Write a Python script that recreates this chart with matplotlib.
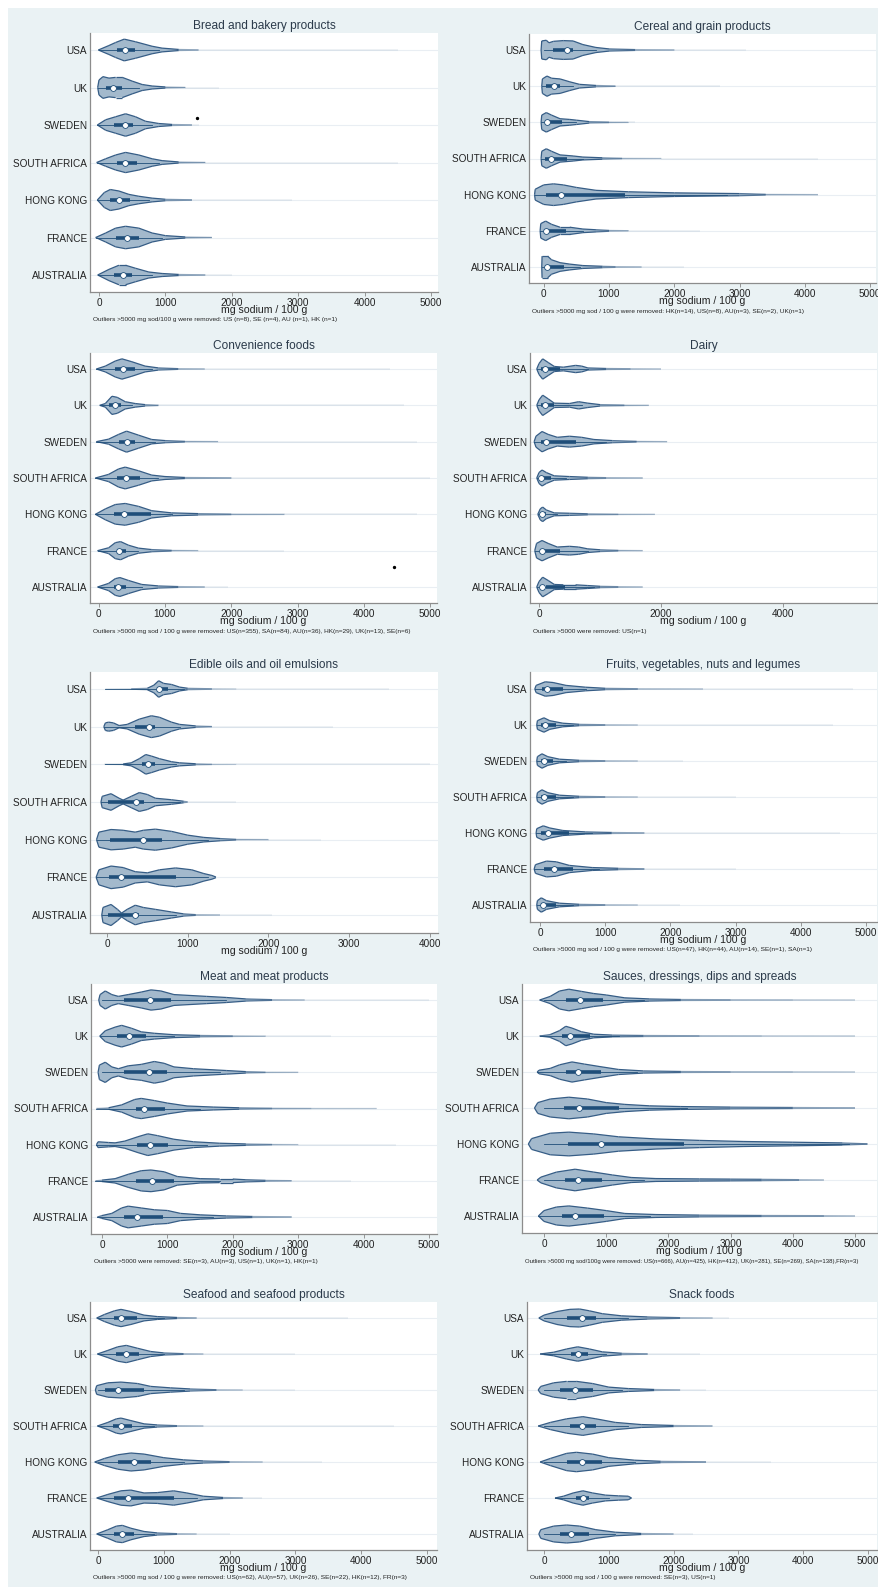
import numpy as np
import matplotlib
matplotlib.use("Agg")
import matplotlib.pyplot as plt
from matplotlib.patches import Rectangle
from matplotlib.collections import LineCollection
from matplotlib.colors import to_rgba

plt.rcParams['font.family'] = ['Liberation Sans', 'DejaVu Sans']

W, H = 879, 1587
COUNTRIES = ["USA", "UK", "SWEDEN", "SOUTH AFRICA", "HONG KONG", "FRANCE", "AUSTRALIA"]

FILL = "#a3b9cc"
EDGE = "#365d86"
DARK = "#1f4e79"

# violin outlines per country: (mg sodium, half width in row units)
bread_shape = [
    [(-10, 0), (150, 0.12), (250, 0.2), (380, 0.29), (550, 0.22), (800, 0.1), (950, 0.05), (1200, 0.015), (1500, 0.004)],
    [(-20, 0), (0, 0.2), (60, 0.29), (150, 0.25), (250, 0.27), (350, 0.27), (500, 0.17), (650, 0.08), (800, 0.04), (1000, 0.015), (1300, 0.004)],
    [(-25, 0), (100, 0.14), (250, 0.22), (400, 0.3), (550, 0.22), (700, 0.1), (900, 0.04), (1100, 0.015), (1400, 0.004)],
    [(-35, 0), (100, 0.1), (250, 0.2), (400, 0.27), (600, 0.2), (800, 0.1), (950, 0.05), (1200, 0.015), (1600, 0.004)],
    [(-25, 0), (80, 0.2), (170, 0.28), (300, 0.24), (450, 0.15), (600, 0.1), (800, 0.05), (1000, 0.02), (1400, 0.005)],
    [(-50, 0), (100, 0.12), (250, 0.25), (400, 0.3), (600, 0.25), (800, 0.12), (1000, 0.05), (1300, 0.015), (1700, 0.004)],
    [(-20, 0), (150, 0.15), (300, 0.26), (400, 0.26), (550, 0.18), (750, 0.08), (950, 0.04), (1200, 0.015), (1600, 0.004)],
]
bread_box = [(0, 276, 397, 542, 900), (-20, 105, 206, 346, 600), (-25, 231, 392, 517, 800),
             (-35, 276, 392, 567, 900), (-25, 166, 301, 467, 750), (-50, 256, 427, 607, 950),
             (-20, 226, 356, 492, 800)]
bread_tail = [4500, 1800, 1500, 4500, 2900, 1700, 2000]

cereal_shape = [
    [(-40, 0), (-30, 0.25), (40, 0.27), (80, 0.2), (150, 0.24), (300, 0.26), (450, 0.25), (600, 0.15), (800, 0.07), (1000, 0.03), (1400, 0.012), (2000, 0.004)],
    [(-30, 0), (-20, 0.2), (50, 0.28), (120, 0.22), (250, 0.2), (400, 0.12), (550, 0.05), (800, 0.02), (1100, 0.005)],
    [(-40, 0), (-30, 0.2), (40, 0.27), (120, 0.2), (250, 0.1), (400, 0.08), (500, 0.06), (700, 0.02), (1000, 0.01), (1300, 0.004)],
    [(-40, 0), (-30, 0.2), (40, 0.27), (120, 0.2), (250, 0.1), (450, 0.07), (600, 0.04), (900, 0.02), (1200, 0.008), (1800, 0.003)],
    [(-140, 0), (-130, 0.15), (0, 0.27), (150, 0.3), (300, 0.27), (500, 0.2), (800, 0.12), (1300, 0.08), (2000, 0.05), (3000, 0.03), (3400, 0.01), (4200, 0.003)],
    [(-55, 0), (-45, 0.2), (30, 0.27), (120, 0.18), (250, 0.1), (400, 0.1), (600, 0.05), (800, 0.03), (1000, 0.012), (1300, 0.004)],
    [(-30, 0), (-25, 0.3), (60, 0.3), (120, 0.2), (250, 0.12), (400, 0.08), (600, 0.04), (900, 0.02), (1100, 0.01), (1500, 0.004)],
]
cereal_box = [(0, 150, 357, 455, 800), (-30, 36, 158, 250, 450), (-40, 36, 46, 276, 500),
              (-40, 15, 112, 352, 600), (-140, 36, 260, 1246, 2800), (-55, 56, 36, 342, 600),
              (-30, 56, 46, 312, 550)]
cereal_tail = [3100, 2700, 1400, 4200, 4200, 2400, 2150]

conv_shape = [
    [(-35, 0), (100, 0.08), (250, 0.22), (350, 0.28), (500, 0.2), (700, 0.08), (900, 0.03), (1200, 0.01), (1600, 0.004)],
    [(15, 0), (100, 0.05), (200, 0.25), (280, 0.22), (400, 0.1), (550, 0.05), (700, 0.02), (900, 0.006)],
    [(-35, 0), (150, 0.07), (300, 0.2), (420, 0.29), (600, 0.18), (800, 0.06), (1000, 0.03), (1300, 0.01), (1800, 0.004)],
    [(-50, 0), (150, 0.1), (300, 0.25), (400, 0.3), (600, 0.2), (800, 0.08), (1000, 0.04), (1300, 0.015), (2000, 0.005)],
    [(-50, 0), (100, 0.15), (250, 0.27), (400, 0.3), (600, 0.22), (800, 0.1), (1100, 0.04), (1500, 0.02), (2000, 0.01), (2800, 0.004)],
    [(-17, 0), (150, 0.08), (250, 0.22), (330, 0.25), (450, 0.15), (600, 0.07), (800, 0.03), (1100, 0.01), (1500, 0.003)],
    [(-17, 0), (150, 0.1), (250, 0.23), (320, 0.26), (450, 0.18), (650, 0.07), (900, 0.03), (1200, 0.012), (1600, 0.004)],
]
conv_box = [(-35, 245, 364, 540, 800), (15, 160, 245, 330, 500), (-35, 313, 423, 540, 850),
            (-50, 270, 406, 626, 900), (-50, 228, 380, 795, 1100), (-17, 270, 313, 415, 600),
            (-17, 237, 296, 415, 650)]
conv_tail = [4400, 4600, 4800, 5000, 4800, 2800, 1950]

dairy_shape = [
    [(-37, 0), (0, 0.15), (60, 0.28), (150, 0.18), (250, 0.07), (400, 0.05), (600, 0.1), (700, 0.08), (800, 0.03), (1100, 0.015), (1500, 0.008), (2000, 0.003)],
    [(-37, 0), (0, 0.15), (60, 0.28), (150, 0.18), (250, 0.06), (500, 0.05), (650, 0.1), (800, 0.06), (1000, 0.02), (1400, 0.01), (1800, 0.003)],
    [(-80, 0), (-50, 0.15), (50, 0.28), (150, 0.2), (300, 0.12), (500, 0.15), (700, 0.12), (900, 0.06), (1200, 0.03), (1600, 0.01), (2100, 0.003)],
    [(-37, 0), (0, 0.15), (50, 0.22), (120, 0.15), (250, 0.06), (500, 0.04), (800, 0.02), (1100, 0.01), (1700, 0.004)],
    [(-20, 0), (20, 0.15), (60, 0.2), (120, 0.12), (250, 0.04), (500, 0.03), (800, 0.015), (1300, 0.008), (1900, 0.003)],
    [(-70, 0), (-40, 0.2), (50, 0.28), (150, 0.2), (300, 0.1), (500, 0.12), (650, 0.1), (800, 0.05), (1000, 0.025), (1300, 0.01), (1700, 0.003)],
    [(-37, 0), (0, 0.15), (60, 0.27), (150, 0.18), (250, 0.07), (400, 0.06), (600, 0.06), (800, 0.04), (1000, 0.02), (1300, 0.01), (1700, 0.003)],
]
dairy_box = [(-37, 30, 92, 350, 800), (-37, 30, 92, 250, 700), (-80, 40, 120, 600, 1100),
             (-37, 10, 37, 200, 450), (-20, 20, 55, 120, 300), (-70, 30, 55, 350, 800),
             (-37, 120, 55, 420, 900)]
dairy_tail = [2000, 1800, 2100, 1700, 1900, 1700, 1700]

oils_shape = [
    [(-20, 0), (300, 0.005), (500, 0.02), (580, 0.1), (640, 0.22), (700, 0.15), (800, 0.12), (900, 0.05), (1000, 0.02), (1300, 0.006), (1600, 0.002)],
    [(-40, 0), (-20, 0.1), (20, 0.12), (80, 0.1), (150, 0.03), (250, 0.06), (400, 0.2), (550, 0.29), (650, 0.25), (800, 0.12), (900, 0.06), (1100, 0.02), (1300, 0.005)],
    [(-30, 0), (200, 0.01), (300, 0.04), (400, 0.15), (480, 0.26), (550, 0.22), (650, 0.15), (800, 0.07), (900, 0.04), (1100, 0.015), (1300, 0.006), (1600, 0.002)],
    [(-75, 0), (-60, 0.15), (50, 0.22), (150, 0.1), (200, 0.05), (300, 0.15), (400, 0.25), (500, 0.2), (600, 0.1), (800, 0.06), (950, 0.02), (1000, 0.004)],
    [(-130, 0), (-100, 0.2), (50, 0.27), (200, 0.25), (350, 0.2), (450, 0.25), (600, 0.28), (800, 0.22), (1000, 0.12), (1200, 0.06), (1400, 0.03), (1600, 0.01), (2000, 0.004)],
    [(-135, 0), (-100, 0.2), (50, 0.3), (200, 0.26), (350, 0.15), (500, 0.12), (650, 0.2), (850, 0.25), (1050, 0.2), (1200, 0.1), (1300, 0.05), (1350, 0.008)],
    [(-65, 0), (-50, 0.2), (50, 0.28), (130, 0.15), (180, 0.05), (250, 0.15), (350, 0.26), (450, 0.2), (600, 0.15), (800, 0.08), (950, 0.03), (1100, 0.01), (1400, 0.003)],
]
oils_box = [(-20, 620, 646, 761, 950), (-40, 350, 523, 597, 900), (-30, 430, 506, 597, 850),
            (-75, 8, 362, 453, 900), (-130, 41, 444, 687, 1250), (-135, 20, 173, 852, 1250),
            (-65, 8, 341, 391, 850)]
oils_tail = [3500, 2800, 4000, 1600, 2650, 1350, 2050]

fruit_shape = [
    [(-80, 0), (-60, 0.1), (80, 0.2), (200, 0.18), (400, 0.1), (700, 0.05), (1000, 0.02), (1500, 0.008), (2500, 0.003)],
    [(-50, 0), (-40, 0.12), (60, 0.2), (150, 0.12), (350, 0.05), (600, 0.02), (1000, 0.008), (1500, 0.003)],
    [(-50, 0), (-40, 0.12), (30, 0.2), (120, 0.12), (300, 0.05), (600, 0.02), (1000, 0.008), (1500, 0.003)],
    [(-50, 0), (-40, 0.12), (30, 0.2), (120, 0.12), (300, 0.05), (600, 0.02), (1000, 0.008), (1500, 0.003)],
    [(-60, 0), (-50, 0.12), (50, 0.2), (150, 0.14), (350, 0.07), (700, 0.03), (1100, 0.015), (1600, 0.005)],
    [(-90, 0), (-70, 0.12), (100, 0.22), (250, 0.2), (450, 0.1), (800, 0.04), (1200, 0.02), (1600, 0.006)],
    [(-50, 0), (-40, 0.12), (20, 0.2), (100, 0.12), (300, 0.05), (600, 0.02), (1000, 0.008), (1500, 0.003)],
]
fruit_box = [(-80, 30, 110, 350, 700), (-50, 20, 80, 250, 500), (-50, 10, 60, 200, 400),
             (-50, 10, 60, 250, 500), (-60, 20, 120, 450, 800), (-90, 60, 220, 500, 900),
             (-50, 10, 45, 250, 500)]
fruit_tail = [4800, 4500, 2200, 3000, 4600, 3000, 2150]

meat_shape = [
    [(-50, 0), (-30, 0.15), (50, 0.25), (150, 0.15), (250, 0.1), (400, 0.15), (600, 0.22), (750, 0.28), (900, 0.25), (1100, 0.15), (1300, 0.13), (1600, 0.1), (1900, 0.07), (2200, 0.03), (2600, 0.01), (3100, 0.003)],
    [(-35, 0), (50, 0.15), (200, 0.25), (300, 0.3), (450, 0.22), (600, 0.12), (800, 0.08), (1100, 0.04), (1500, 0.02), (2000, 0.01), (2500, 0.003)],
    [(-60, 0), (-40, 0.2), (50, 0.28), (150, 0.15), (250, 0.1), (400, 0.18), (600, 0.22), (800, 0.3), (950, 0.25), (1100, 0.15), (1400, 0.1), (1900, 0.05), (2200, 0.02), (2500, 0.008), (3000, 0.003)],
    [(-85, 0), (100, 0.02), (300, 0.1), (500, 0.25), (600, 0.28), (800, 0.22), (1000, 0.15), (1300, 0.07), (1700, 0.04), (2100, 0.02), (2600, 0.01), (3200, 0.005), (4200, 0.003)],
    [(-85, 0), (-60, 0.08), (100, 0.06), (200, 0.05), (350, 0.1), (550, 0.22), (700, 0.3), (850, 0.25), (1100, 0.15), (1400, 0.08), (1800, 0.04), (2200, 0.02), (2600, 0.008), (3000, 0.003)],
    [(-100, 0), (0, 0.02), (200, 0.06), (400, 0.18), (600, 0.28), (750, 0.3), (950, 0.25), (1150, 0.12), (1500, 0.06), (1800, 0.05), (2000, 0.05), (2200, 0.03), (2500, 0.015), (2900, 0.005)],
    [(-70, 0), (0, 0.04), (150, 0.1), (300, 0.25), (400, 0.3), (600, 0.25), (800, 0.2), (1000, 0.18), (1200, 0.1), (1500, 0.06), (1900, 0.03), (2300, 0.015), (2900, 0.004)],
]
meat_box = [(0, 343, 737, 1055, 1900), (-35, 223, 412, 669, 1100), (0, 343, 712, 995, 1800),
            (-85, 523, 635, 969, 1500), (-85, 532, 737, 1012, 1600), (-100, 523, 772, 1098, 1800),
            (-70, 343, 532, 926, 1700)]
meat_tail = [5000, 3500, 3000, 4200, 4500, 3800, 2900]

sauce_shape = [
    [(-70, 0), (100, 0.1), (250, 0.25), (400, 0.3), (600, 0.24), (800, 0.18), (1000, 0.14), (1300, 0.06), (1700, 0.03), (2200, 0.015), (3000, 0.008), (4000, 0.005), (5000, 0.003)],
    [(-70, 0), (100, 0.04), (250, 0.15), (350, 0.27), (450, 0.22), (600, 0.12), (800, 0.05), (1100, 0.025), (1600, 0.015), (2500, 0.008), (3500, 0.005), (5000, 0.003)],
    [(-110, 0), (-80, 0.05), (100, 0.1), (250, 0.2), (450, 0.28), (650, 0.22), (900, 0.15), (1200, 0.07), (1600, 0.03), (2200, 0.015), (3000, 0.008), (4000, 0.006), (5000, 0.003)],
    [(-153, 0), (-100, 0.15), (100, 0.25), (400, 0.3), (700, 0.25), (1000, 0.15), (1300, 0.1), (1700, 0.06), (2200, 0.04), (3000, 0.025), (4000, 0.015), (5000, 0.005)],
    [(-252, 0), (-200, 0.15), (100, 0.3), (400, 0.33), (800, 0.28), (1200, 0.2), (1800, 0.14), (2500, 0.1), (3200, 0.07), (4000, 0.05), (4800, 0.03), (5200, 0.005)],
    [(-110, 0), (-50, 0.08), (200, 0.22), (500, 0.3), (800, 0.22), (1100, 0.14), (1400, 0.07), (1800, 0.04), (2500, 0.03), (3000, 0.025), (3500, 0.02), (4100, 0.01), (4500, 0.003)],
    [(-90, 0), (0, 0.15), (200, 0.25), (400, 0.28), (700, 0.22), (1000, 0.15), (1300, 0.07), (1800, 0.04), (2500, 0.025), (3500, 0.015), (4500, 0.01), (5000, 0.003)],
]
sauce_box = [(0, 360, 577, 946, 1600), (-70, 297, 423, 739, 1200), (-110, 360, 550, 919, 1500),
             (0, 315, 559, 1198, 2300), (0, 378, 919, 2252, 4900), (0, 342, 540, 928, 1600),
             (-90, 297, 505, 964, 1700)]
sauce_tail = [5000, 5000, 5000, 5000, 5200, 4500, 5000]

seafood_shape = [
    [(-20, 0), (100, 0.1), (250, 0.2), (350, 0.24), (500, 0.18), (700, 0.08), (900, 0.04), (1200, 0.015), (1500, 0.004)],
    [(-10, 0), (150, 0.1), (300, 0.2), (430, 0.24), (600, 0.16), (800, 0.07), (1000, 0.03), (1300, 0.01), (1600, 0.003)],
    [(-40, 0), (-20, 0.12), (150, 0.2), (350, 0.22), (600, 0.18), (800, 0.1), (1100, 0.06), (1400, 0.03), (1800, 0.008), (2200, 0.003)],
    [(-10, 0), (150, 0.1), (280, 0.2), (350, 0.22), (500, 0.15), (700, 0.06), (900, 0.03), (1200, 0.01), (1600, 0.003)],
    [(-50, 0), (100, 0.1), (300, 0.2), (500, 0.25), (700, 0.22), (1000, 0.12), (1300, 0.06), (1600, 0.03), (2000, 0.01), (2500, 0.003)],
    [(-20, 0), (150, 0.1), (350, 0.2), (500, 0.22), (700, 0.14), (900, 0.15), (1150, 0.2), (1350, 0.14), (1600, 0.05), (1900, 0.015), (2200, 0.004)],
    [(-20, 0), (150, 0.12), (280, 0.22), (370, 0.24), (500, 0.16), (700, 0.07), (900, 0.03), (1200, 0.01), (1500, 0.003)],
]
seafood_box = [(0, 250, 350, 600, 1000), (0, 280, 430, 620, 1000), (0, 100, 310, 700, 1300),
               (0, 230, 350, 520, 850), (0, 300, 540, 800, 1300), (0, 250, 460, 1150, 1500),
               (0, 250, 370, 550, 850)]
seafood_tail = [3800, 3000, 3000, 4500, 3400, 2500, 2000]

snack_shape = [
    [(-80, 0), (0, 0.08), (200, 0.18), (400, 0.24), (550, 0.25), (700, 0.2), (900, 0.12), (1200, 0.06), (1600, 0.03), (2100, 0.01), (2600, 0.003)],
    [(-60, 0), (150, 0.05), (350, 0.14), (520, 0.2), (700, 0.14), (900, 0.06), (1200, 0.02), (1600, 0.005)],
    [(-90, 0), (-50, 0.1), (150, 0.2), (350, 0.24), (500, 0.24), (750, 0.18), (1000, 0.08), (1300, 0.04), (1700, 0.015), (2100, 0.003)],
    [(-90, 0), (100, 0.1), (350, 0.2), (600, 0.26), (800, 0.2), (1100, 0.1), (1500, 0.04), (2000, 0.015), (2600, 0.003)],
    [(-60, 0), (100, 0.1), (350, 0.24), (500, 0.27), (750, 0.22), (1000, 0.12), (1400, 0.05), (1800, 0.02), (2500, 0.005)],
    [(170, 0), (300, 0.05), (450, 0.14), (600, 0.2), (750, 0.14), (950, 0.08), (1150, 0.06), (1300, 0.05), (1350, 0.0)],
    [(-80, 0), (-50, 0.12), (150, 0.22), (350, 0.25), (550, 0.22), (800, 0.12), (1100, 0.05), (1500, 0.015), (2000, 0.003)],
]
snack_box = [(0, 350, 580, 800, 1300), (0, 420, 520, 680, 950), (0, 250, 480, 750, 1200),
             (0, 400, 580, 800, 1300), (0, 350, 580, 900, 1400), (170, 500, 600, 700, 1000),
             (0, 250, 420, 700, 1100)]
snack_tail = [2850, 2400, 2500, 2600, 3500, 1350, 2300]

# stray single observations (mg, row, offset from row)
bread_dots = [(1480, 2, -0.18)]
conv_dots = [(4450, 5, 0.46)]

notes = {
    "bread": "Outliers >5000 mg sod/100 g were removed: US (n=8), SE (n=4), AU (n=1), HK (n=1)",
    "cereal": "Outliers >5000 mg sod / 100 g were removed: HK(n=14), US(n=8), AU(n=3), SE(n=2), UK(n=1)",
    "conv": "Outliers >5000 mg sod / 100 g were removed: US(n=355), SA(n=84), AU(n=36), HK(n=29), UK(n=13), SE(n=6)",
    "dairy": "Outliers >5000 were removed: US(n=1)",
    "fruit": "Outliers >5000 mg sod / 100 g were removed: US(n=47), HK(n=44), AU(n=14), SE(n=1), SA(n=1)",
    "meat": "Outliers >5000 were removed: SE(n=3), AU(n=3), US(n=1), UK(n=1), HK(n=1)",
    "sauce": "Outliers >5000 mg sod/100g were removed: US(n=666), AU(n=425), HK(n=412), UK(n=281), SE(n=269), SA(n=138),FR(n=3)",
    "seafood": "Outliers >5000 mg sod / 100 g were removed: US(n=62), AU(n=57), UK(n=26), SE(n=22), HK(n=12), FR(n=3)",
    "snack": "Outliers >5000 mg sod / 100 g were removed: SE(n=3), US(n=1)",
}


def outline(ax, xs, ys, hw):
    # edge fades as the density thins out along the tail
    segs = [[(xs[k], ys[k]), (xs[k + 1], ys[k + 1])] for k in range(len(xs) - 1)]
    mid = (hw[:-1] + hw[1:]) / 2
    base = to_rgba(EDGE)
    cols = [(base[0], base[1], base[2], float(np.clip(m / 0.025, 0.08, 1.0))) for m in mid]
    ax.add_collection(LineCollection(segs, colors=cols, linewidths=0.9, zorder=2.5))


def panel(fig, box_px, zero_px, px_per_1000, row_px, title, ticks,
          shapes, boxes, tails, note=None, dots=(), note_size=4.65):
    left, right, top, bottom = box_px
    ax = fig.add_axes([left / W, 1 - bottom / H, (right - left) / W, (bottom - top) / H])
    ax.set_facecolor("white")
    ax.set_xlim((left - zero_px) / px_per_1000 * 1000, (right - zero_px) / px_per_1000 * 1000)
    step = (row_px[1] - row_px[0]) / 6
    ax.set_ylim(6 + (bottom - row_px[1]) / step, (top - row_px[0]) / step)

    for i in range(7):
        ax.axhline(i, color="#e9eef3", lw=0.8, zorder=0)
        prof = np.array(shapes[i], dtype=float)
        xs, hw = prof[:, 0], prof[:, 1]
        # faint trailing density
        ax.plot([xs[-1], tails[i]], [i, i], color=DARK, alpha=0.08, lw=1.3, zorder=1,
                solid_capstyle="butt")
        poly_x = np.concatenate([xs, xs[::-1]])
        poly_y = np.concatenate([i - hw, (i + hw)[::-1]])
        ax.fill(poly_x, poly_y, facecolor=FILL, edgecolor="none", zorder=2)
        outline(ax, xs, i - hw, hw)
        outline(ax, xs, i + hw, hw)
        lo, q1, med, q3, hi = boxes[i]
        ax.plot([lo, hi], [i, i], color=DARK, lw=0.6, zorder=3)
        ax.plot([min(q1, q3), max(q1, q3)], [i, i], color=DARK, lw=2.6, zorder=3,
                solid_capstyle="butt")
        ax.plot(med, i, "o", ms=4.2, mfc="white", mec=DARK, mew=0.6, zorder=4)

    for x, r, off in dots:
        ax.plot(x, r + off, "o", ms=1.4, color="black", zorder=4)

    ax.set_yticks(range(7))
    ax.set_yticklabels(COUNTRIES, fontsize=7.2, color="#222222")
    ax.tick_params(axis="y", length=0, pad=2)
    ax.set_xticks(ticks)
    ax.set_xticklabels([str(t) for t in ticks], fontsize=7.2, color="#222222")
    ax.tick_params(axis="x", length=3, width=0.6, color="#888888", pad=1.5)
    for s in ("top", "right"):
        ax.spines[s].set_visible(False)
    for s in ("left", "bottom"):
        ax.spines[s].set_color("#8c8c8c")
        ax.spines[s].set_linewidth(0.9)
    ax.set_title(title, fontsize=8.6, color="#2b3a4a", pad=3)
    ax.set_xlabel("mg sodium / 100 g", fontsize=7.6, color="#222222", labelpad=-2)
    if note:
        fig.text((left + 3) / W, 1 - (bottom + 28) / H, note, fontsize=note_size,
                 color="#222222", va="center", ha="left")
    return ax


fig = plt.figure(figsize=(W / 100, H / 100), dpi=100)
fig.patch.set_facecolor("white")
fig.patches.append(Rectangle((8 / W, 0), 1, 1 - 8 / H, transform=fig.transFigure,
                             facecolor="#eaf2f4", edgecolor="none", zorder=-10))

t5 = [0, 1000, 2000, 3000, 4000, 5000]
panel(fig, (90, 438, 33, 292), 99, 66.4, (50, 275), "Bread and bakery products", t5,
      bread_shape, bread_box, bread_tail, notes["bread"], bread_dots)
panel(fig, (529, 876, 34, 283), 543.7, 65.3, (50, 267), "Cereal and grain products", t5,
      cereal_shape, cereal_box, cereal_tail, notes["cereal"])
panel(fig, (90, 437, 353, 603), 98.7, 66.3, (369, 587), "Convenience foods", t5,
      conv_shape, conv_box, conv_tail, notes["conv"], conv_dots)
panel(fig, (530, 877, 353, 603), 539, 61.0, (369, 587), "Dairy", [0, 2000, 4000],
      dairy_shape, dairy_box, dairy_tail, notes["dairy"])
panel(fig, (90, 438, 672, 933), 107, 80.7, (689, 915), "Edible oils and oil emulsions",
      [0, 1000, 2000, 3000, 4000], oils_shape, oils_box, oils_tail)
panel(fig, (530, 877, 672, 922), 540, 65.2, (689, 905), "Fruits, vegetables, nuts and legumes", t5,
      fruit_shape, fruit_box, fruit_tail, notes["fruit"])
panel(fig, (91, 437, 984, 1234), 102, 65.4, (1000, 1217), "Meat and meat products", t5,
      meat_shape, meat_box, meat_tail, notes["meat"])
panel(fig, (522, 877, 984, 1233), 544, 62.2, (1000, 1216), "Sauces, dressings, dips and spreads", t5,
      sauce_shape, sauce_box, sauce_tail, notes["sauce"], note_size=4.3)
panel(fig, (90, 437, 1302, 1550), 98, 65.8, (1318, 1534), "Seafood and seafood products", t5,
      seafood_shape, seafood_box, seafood_tail, notes["seafood"])
panel(fig, (527, 877, 1302, 1550), 544, 64.8, (1318, 1534), "Snack foods", t5,
      snack_shape, snack_box, snack_tail, notes["snack"])

fig.savefig("out.png", dpi=100)
